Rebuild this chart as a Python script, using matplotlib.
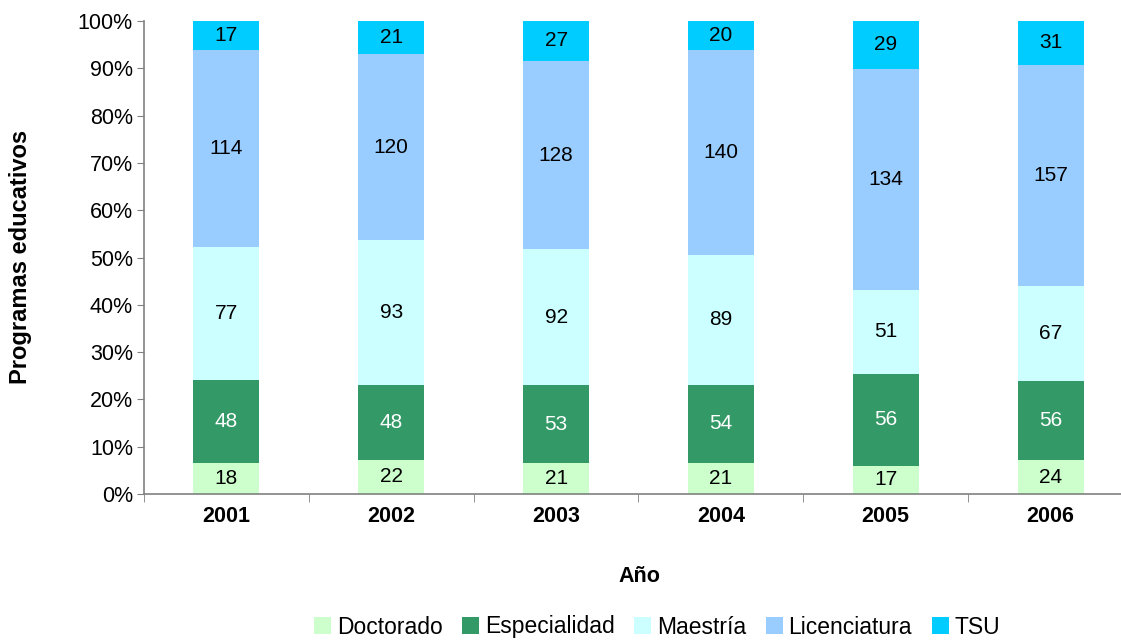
import matplotlib
matplotlib.use("Agg")
import matplotlib.pyplot as plt
import numpy as np
from matplotlib.ticker import FixedLocator, PercentFormatter

plt.rcParams['font.family'] = ['Liberation Sans', 'DejaVu Sans']

years = ["2001", "2002", "2003", "2004", "2005", "2006"]
series_names = ["Doctorado", "Especialidad", "Maestría", "Licenciatura", "TSU"]
doctorado = [18, 22, 21, 21, 17, 24]
especialidad = [48, 48, 53, 54, 56, 56]
maestria = [77, 93, 92, 89, 51, 67]
licenciatura = [114, 120, 128, 140, 134, 157]
tsu = [17, 21, 27, 20, 29, 31]
colors = ["#CCFFCC", "#339966", "#CCFFFF", "#99CCFF", "#00CCFF"]
text_colors = ["black", "white", "black", "black", "black"]

data = np.array([doctorado, especialidad, maestria, licenciatura, tsu], dtype=float)
totals = data.sum(axis=0)
pct = data / totals * 100

fig = plt.figure(figsize=(11.21, 6.41), dpi=100)
W, H = 1121, 641
left, right, top, bottom = 144, 1133, 21, 494
ax = fig.add_axes([left / W, 1 - bottom / H, (right - left) / W, (bottom - top) / H])

x = np.arange(len(years))
base = np.zeros(len(years))
handles = []
for i, name in enumerate(series_names):
    b = ax.bar(x, pct[i], 0.4, bottom=base, color=colors[i], label=name, linewidth=0)
    handles.append(b)
    for j in range(len(years)):
        ax.text(x[j], base[j] + pct[i][j] / 2, f"{int(data[i][j])}", ha='center', va='center',
                fontsize=15, color=text_colors[i])
    base += pct[i]

ax.set_xlim(-0.5, len(years) - 0.5)
ax.set_ylim(0, 100)
ax.yaxis.set_major_locator(FixedLocator(np.arange(0, 101, 10)))
ax.yaxis.set_major_formatter(PercentFormatter(decimals=0))
ax.set_xticks(x)
ax.set_xticklabels(years, fontsize=15.5, fontweight='bold')
ax.tick_params(axis='x', which='major', length=0, pad=9)
ax.xaxis.set_minor_locator(FixedLocator(np.arange(-0.5, len(years), 1.0)))
ax.tick_params(axis='x', which='minor', length=6, color='#808080')
ax.tick_params(axis='y', labelsize=15.5, length=5, color='#808080', pad=3)
for s in ['top', 'right']:
    ax.spines[s].set_visible(False)
for s in ['left', 'bottom']:
    ax.spines[s].set_color('#808080')
    ax.spines[s].set_linewidth(1.2)

fig.text(21 / W, 1 - 257 / H, "Programas educativos", rotation=90, ha='center', va='center',
         fontsize=17, fontweight='bold')
fig.text(639 / W, 1 - 576 / H, "Año", ha='center', va='center', fontsize=15.5, fontweight='bold')

fig.legend(handles=handles, labels=series_names, loc='center', bbox_to_anchor=(657 / W, 1 - 627 / H),
           ncol=5, frameon=False, fontsize=16.5, handlelength=0.75, handleheight=0.75,
           handletextpad=0.25, columnspacing=0.85)

fig.savefig("out.png", dpi=100)
